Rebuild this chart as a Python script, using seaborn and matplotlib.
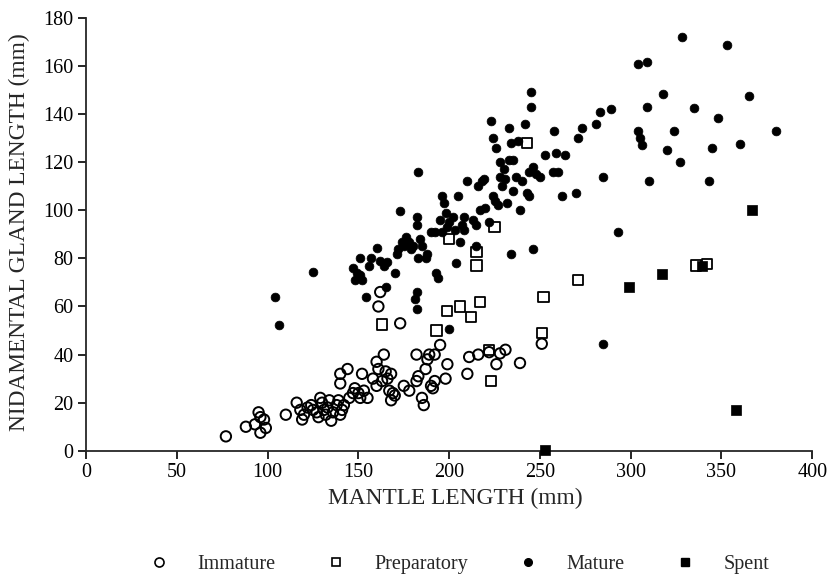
import matplotlib
matplotlib.use("Agg")
import matplotlib.pyplot as plt
import seaborn as sns
import pandas as pd

# immature (open circles)
imm_x = [77, 88, 93, 95, 96, 98, 99, 96, 110, 116, 118, 119, 120, 122, 124, 125, 127, 128,
         129, 130, 131, 132, 133, 134, 135, 136, 138, 139, 140, 141, 142, 140, 140, 144,
         145, 147, 148, 150, 151, 152, 153, 155, 158, 160, 160, 161, 161, 162, 163, 164,
         165, 166, 167, 168, 168, 169, 170, 173, 175, 178, 182, 182, 183, 185, 186, 187,
         188, 189, 190, 191, 192, 192, 195, 198, 199, 210, 211, 216, 222, 226, 228, 231,
         239, 251]
imm_y = [6, 10, 11, 16, 7.5, 13, 9.5, 14, 15, 20, 17, 13, 15, 18, 19, 17, 16, 14,
         22, 20, 17, 15, 18, 21, 12.5, 16, 19, 21, 15, 17, 19, 28, 32, 34,
         22, 24, 26, 24, 22, 32, 25, 22, 30, 27, 37, 34, 60, 66, 29, 40,
         33, 30, 25, 32, 21, 24, 23, 53, 27, 25, 40, 29, 31, 22, 19, 34,
         38, 40, 27, 26, 29, 40, 44, 30, 36, 32, 39, 40, 41, 36, 40.5, 42,
         36.5, 44.5]

# preparatory (open squares)
prep_x = [163, 193, 200, 199, 206, 212, 215, 215, 217, 222, 223, 225, 243, 251, 252, 271, 336, 342]
prep_y = [52.5, 50, 88, 58, 60, 55.5, 77, 82.5, 62, 42, 29, 93, 128, 49, 64, 71, 77, 77.5]

# mature (filled circles)
mat_x = [104, 106, 125, 147, 148, 149, 151, 151, 152, 154, 156, 157, 160, 162, 164, 165, 166,
         170, 171, 172, 173, 174, 175, 176, 177, 178, 179, 180, 181, 182, 182, 182, 182, 183,
         183, 184, 185, 187, 188, 190, 192, 193, 194, 195, 196, 196, 197, 198, 199, 200, 200,
         202, 203, 204, 205, 206, 207, 208, 208, 210, 213, 215, 215, 216, 217, 218, 219, 220,
         222, 223, 224, 224, 225, 226, 227, 228, 228, 229, 230, 231, 232, 233, 233, 234, 234,
         235, 235, 237, 238, 239, 240, 242, 243, 244, 244, 245, 245, 246, 246, 248, 250, 253,
         257, 258, 259, 260, 262, 264, 270, 271, 273, 281, 283, 285, 289, 293, 285, 304, 305,
         304, 306, 309, 309, 310, 318, 320, 324, 328, 327, 335, 343, 345, 348, 353, 360, 365, 380]
mat_y = [64, 52.5, 74.5, 76, 71, 74, 80, 73, 71, 64, 77, 80, 84.5, 79, 77, 68, 78.5,
         74, 82, 84, 99.5, 87, 85, 89, 86, 87, 84, 85, 63, 66, 59, 94, 97, 116,
         80, 88, 85, 80, 82, 91, 91, 74, 72, 96, 91, 106, 103, 99, 93, 95, 50.5,
         97, 92, 78, 106, 87, 94, 97, 92, 112, 96, 94, 85, 110, 100, 112, 113, 101,
         95, 137, 130, 106, 104, 126, 102, 114, 120, 110, 117, 113, 103, 134, 121, 128, 82,
         121, 108, 114, 129, 100, 112, 136, 107, 106, 116, 143, 149, 118, 84, 115, 114, 123,
         116, 133, 124, 116, 106, 123, 107, 130, 134, 136, 141, 114, 142, 91, 44.5, 133, 130,
         161, 127, 161.5, 143, 112, 148.5, 125, 133, 172, 120, 142.5, 112, 126, 138.5, 168.5, 127.5, 147.5, 133]

# spent (filled squares)
spent_x = [253, 299, 317, 339, 358, 367]
spent_y = [0.5, 68, 73.5, 77, 17, 100]

df = pd.concat([
    pd.DataFrame({"ml": imm_x, "ngl": imm_y, "stage": "Immature"}),
    pd.DataFrame({"ml": prep_x, "ngl": prep_y, "stage": "Preparatory"}),
    pd.DataFrame({"ml": mat_x, "ngl": mat_y, "stage": "Mature"}),
    pd.DataFrame({"ml": spent_x, "ngl": spent_y, "stage": "Spent"}),
])

sns.set_style("ticks")
plt.rcParams["font.family"] = ["Liberation Serif", "DejaVu Serif"]

fig = plt.figure(figsize=(8.28, 5.75), dpi=100)
ax = fig.add_axes([0.104, 0.216, 0.877, 0.753])

styles = {
    "Immature": dict(marker="o", s=56, facecolor="none", edgecolor="black", linewidth=1.4),
    "Preparatory": dict(marker="s", s=54, facecolor="none", edgecolor="black", linewidth=1.3),
    "Mature": dict(marker="o", s=40, facecolor="black", edgecolor="black", linewidth=0.5),
    "Spent": dict(marker="s", s=42, facecolor="black", edgecolor="black", linewidth=0.5),
}
for stage, kw in styles.items():
    sub = df[df["stage"] == stage]
    sns.scatterplot(data=sub, x="ml", y="ngl", ax=ax, clip_on=False, zorder=3, **kw)

ax.set_xlim(0, 400)
ax.set_ylim(0, 180)
ax.set_xticks(range(0, 401, 50))
ax.set_yticks(range(0, 181, 20))
sns.despine(ax=ax)
for sp in ["left", "bottom"]:
    ax.spines[sp].set_linewidth(1.3)
ax.tick_params(direction="out", length=6, width=1.2, labelsize=14.5, colors="black")
ax.tick_params(axis="x", pad=3)
ax.tick_params(axis="y", pad=3)
ax.set_xlabel("MANTLE LENGTH (mm)", fontsize=16.8)
ax.set_ylabel("NIDAMENTAL GLAND LENGTH (mm)", fontsize=16.8)
ax.xaxis.set_label_coords(0.508, -0.085)
ax.yaxis.set_label_coords(-0.077, 0.505)

handles = [
    plt.Line2D([], [], marker="o", linestyle="", markerfacecolor="none", markeredgecolor="black", markersize=6.5, markeredgewidth=1.2),
    plt.Line2D([], [], marker="s", linestyle="", markerfacecolor="none", markeredgecolor="black", markersize=6, markeredgewidth=1.2),
    plt.Line2D([], [], marker="o", linestyle="", color="black", markersize=5.5),
    plt.Line2D([], [], marker="s", linestyle="", color="black", markersize=5.5),
]
fig.legend(handles, ["Immature", "Preparatory", "Mature", "Spent"], loc="center left",
           bbox_to_anchor=(0.168, 0.018), ncol=4, frameon=False, fontsize=14.5,
           handlelength=2.0, handletextpad=0.9, columnspacing=2.0,
           borderpad=0, borderaxespad=0)

fig.savefig("out.png", dpi=100)
